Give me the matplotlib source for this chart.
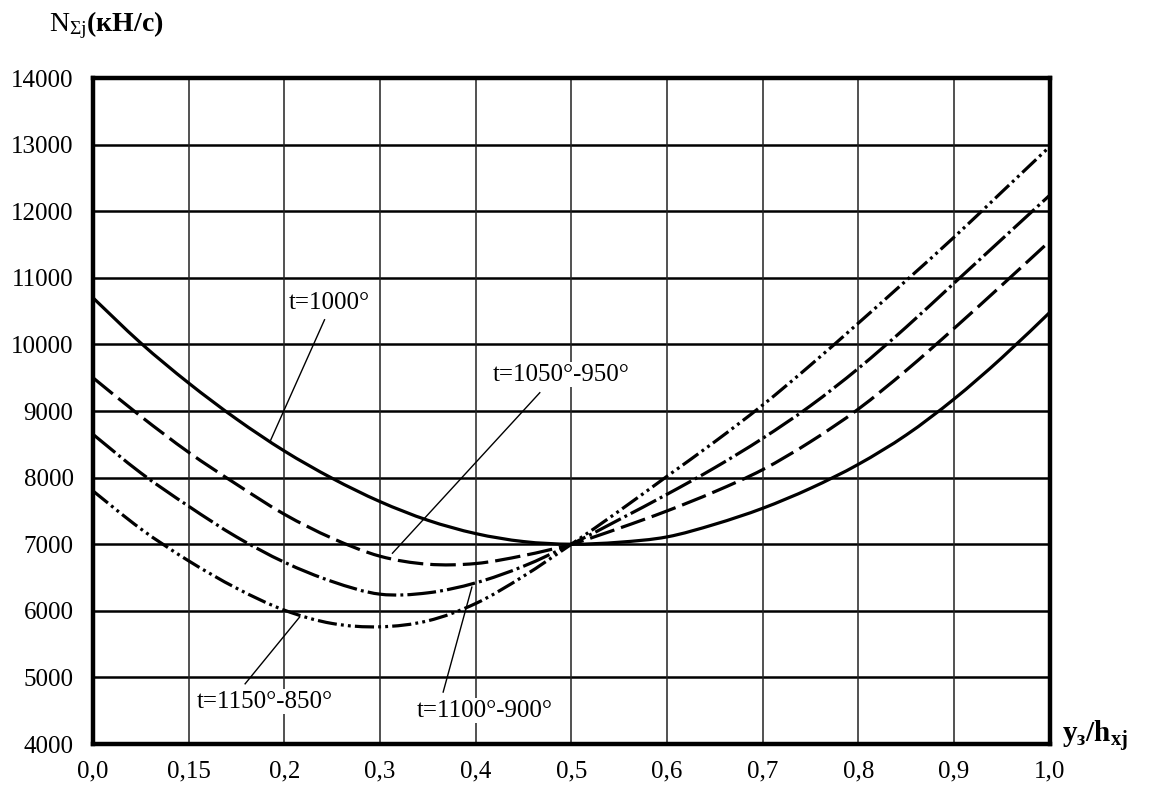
import numpy as np
import matplotlib
matplotlib.use('Agg')
import matplotlib.pyplot as plt
from matplotlib.path import Path
from matplotlib.patches import PathPatch

plt.rcParams['font.family'] = ['Liberation Serif', 'DejaVu Serif']
plt.rcParams['mathtext.fontset'] = 'custom'
plt.rcParams['mathtext.rm'] = 'Liberation Serif'
plt.rcParams['mathtext.it'] = 'Liberation Serif'
plt.rcParams['mathtext.bf'] = 'Liberation Serif:bold'

# data
x = [0.0, 0.05, 0.1, 0.15, 0.2, 0.25, 0.3, 0.35, 0.4, 0.45, 0.5,
     0.55, 0.6, 0.65, 0.7, 0.75, 0.8, 0.85, 0.9, 0.95, 1.0]
t1000 = [10700, 10020, 9420, 8880, 8400, 7990, 7640, 7360, 7160, 7040, 7000,
         7030, 7110, 7300, 7540, 7840, 8200, 8640, 9180, 9800, 10480]
t1050_950 = [9500, 8920, 8380, 7900, 7450, 7090, 6820, 6700, 6710, 6830, 7000,
             7240, 7500, 7790, 8120, 8540, 9030, 9610, 10240, 10890, 11550]
t1100_900 = [8650, 8070, 7570, 7110, 6730, 6440, 6250, 6270, 6420, 6670, 7000,
             7370, 7750, 8150, 8590, 9080, 9640, 10260, 10920, 11580, 12240]
t1150_850 = [7800, 7230, 6750, 6340, 6010, 5810, 5760, 5850, 6110, 6520, 7000,
             7500, 8020, 8540, 9090, 9690, 10320, 10960, 11610, 12290, 12970]

xticks = [0.0, 0.1, 0.2, 0.3, 0.4, 0.5, 0.6, 0.7, 0.8, 0.9, 1.0]
xticklabels = ['0,0', '0,15', '0,2', '0,3', '0,4', '0,5', '0,6', '0,7', '0,8', '0,9', '1,0']
yticks = list(range(4000, 14001, 1000))


def smooth_path(xs, ys):
    # catmull-rom through the read points, drawn as bezier segments
    p = np.column_stack([xs, ys]).astype(float)
    verts = [p[0]]
    codes = [Path.MOVETO]
    n = len(p)
    for i in range(n - 1):
        p0 = p[i - 1] if i > 0 else p[i]
        p3 = p[i + 2] if i + 2 < n else p[i + 1]
        c1 = p[i] + (p[i + 1] - p0) / 6
        c2 = p[i + 1] - (p3 - p[i]) / 6
        verts += [c1, c2, p[i + 1]]
        codes += [Path.CURVE4] * 3
    return Path(verts, codes)


fig = plt.figure(figsize=(11.51, 7.85), dpi=100)
ax = fig.add_axes([0.0808, 0.0522, 0.8312, 0.8484])

for yv in yticks:
    ax.axhline(yv, color='black', lw=1.8, zorder=1)
for xv in xticks:
    ax.axvline(xv, color='#222222', lw=1.1, zorder=1)

lw = 2.3
styles = [
    (t1000, '-'),
    (t1050_950, (0, (8, 2.2))),
    (t1100_900, (0, (9, 1.3, 0.9, 1.3))),
    (t1150_850, (0, (6, 1.3, 0.9, 1.3, 0.9, 1.3))),
]
for ys, ls in styles:
    patch = PathPatch(smooth_path(x, ys), fill=False, edgecolor='black',
                      lw=lw, linestyle=ls, zorder=3, clip_on=True)
    ax.add_patch(patch)

ax.set_xlim(0, 1.0)
ax.set_ylim(4000, 14000)
ax.set_xticks(xticks)
ax.set_xticklabels(xticklabels)
ax.set_yticks(yticks)
ax.tick_params(length=0, labelsize=18, pad=14)
ax.tick_params(axis='x', pad=12)
for s in ax.spines.values():
    s.set_linewidth(3.2)
    s.set_zorder(5)

box = dict(facecolor='white', edgecolor='none', pad=1)
fs = 18
# labels with leader lines
ax.text(0.247, 10620, 't=1000°', fontsize=fs, ha='center', va='center', bbox=box, zorder=4)
ax.plot([0.242, 0.185], [10370, 8540], color='black', lw=1.0, zorder=4)

ax.text(0.489, 9545, 't=1050°-950°', fontsize=fs, ha='center', va='center', bbox=box, zorder=4)
ax.plot([0.467, 0.313], [9275, 6865], color='black', lw=1.0, zorder=4)

ax.text(0.409, 4500, 't=1100°-900°', fontsize=fs, ha='center', va='center', bbox=box, zorder=4)
ax.plot([0.366, 0.396], [4780, 6356], color='black', lw=1.0, zorder=4)

ax.text(0.18, 4635, 't=1150°-850°', fontsize=fs, ha='center', va='center', bbox=box, zorder=4)
ax.plot([0.159, 0.216], [4904, 5907], color='black', lw=1.0, zorder=4)

fig.text(0.043, 0.968, r'N$_{\Sigma j}$$\mathbf{(кН/с)}$', fontsize=20, ha='left', va='center')
fig.text(0.923, 0.062, r'$\mathbf{y_{з}/h_{xj}}$', fontsize=21, ha='left', va='center')

fig.savefig('out.png', dpi=100)
